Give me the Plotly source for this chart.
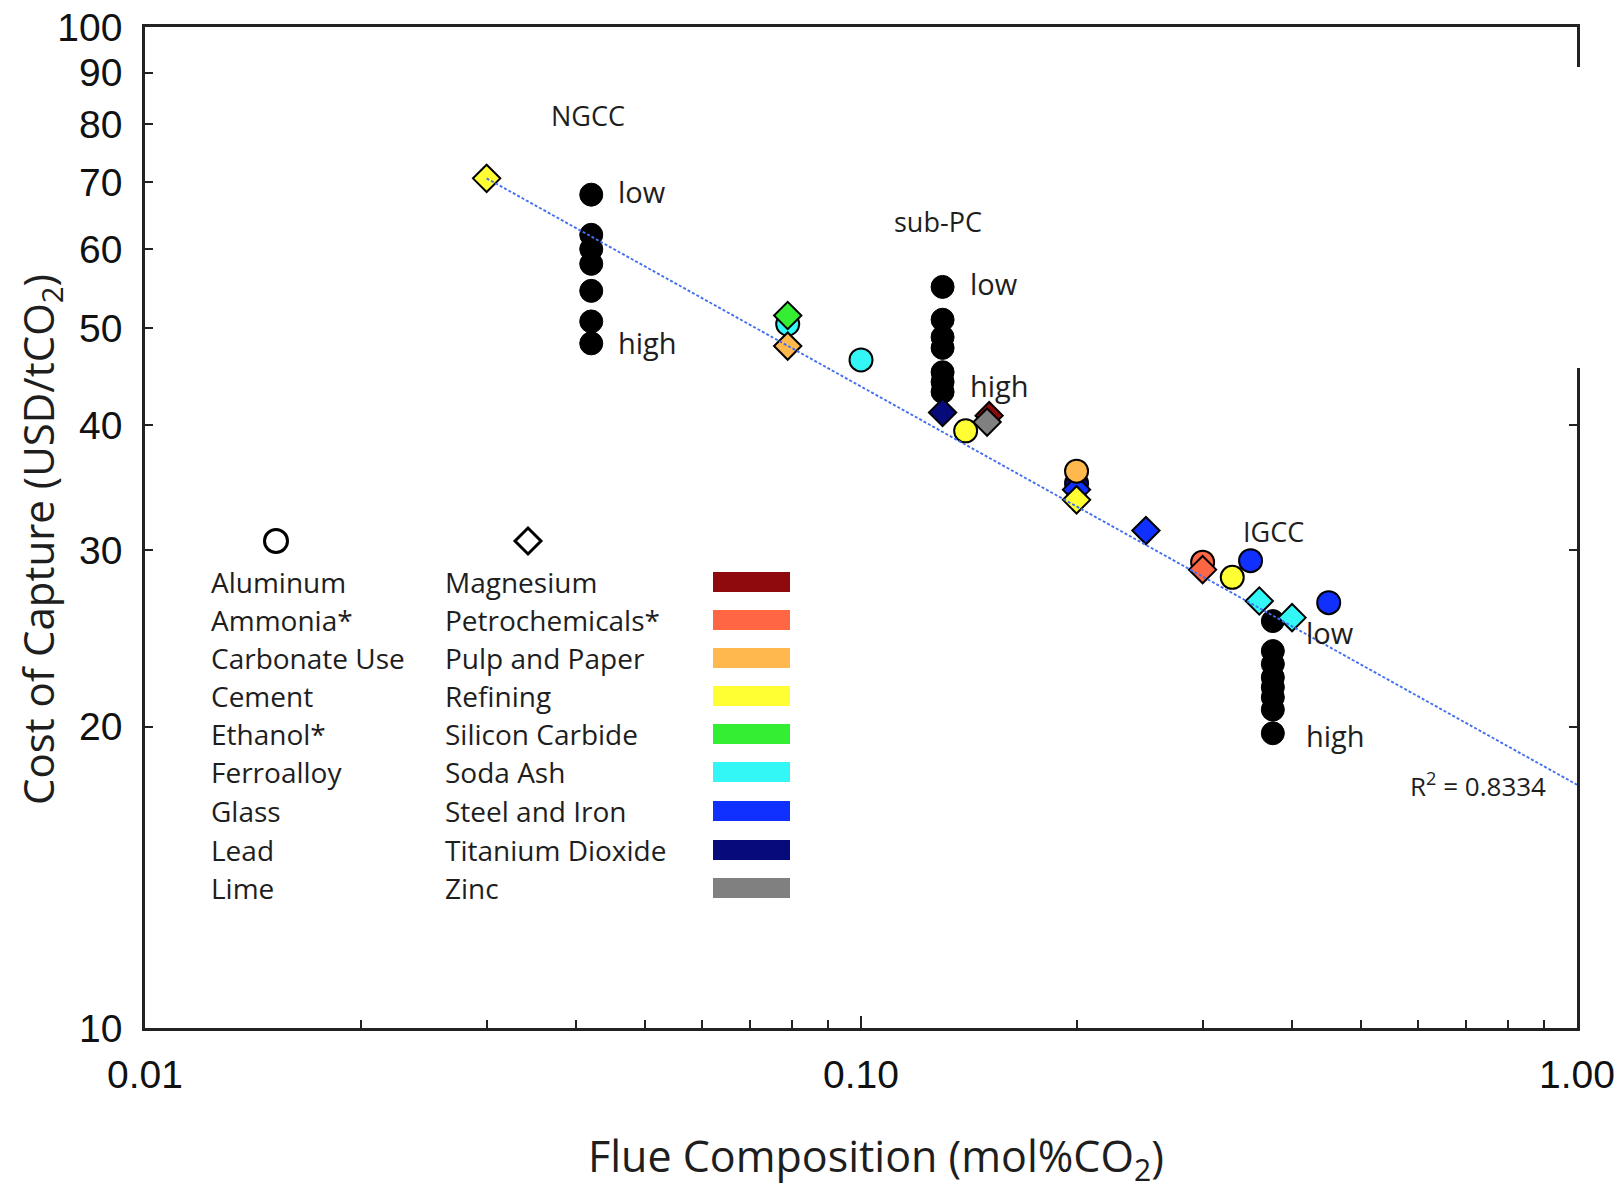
import plotly.graph_objects as go

# ---------------- data ----------------
ngcc_x = [0.042] * 7
ngcc_y = [68.0, 62.0, 60.0, 58.0, 54.5, 50.8, 48.3]
subpc_x = [0.13] * 7
subpc_y = [55.0, 51.0, 49.0, 47.8, 45.2, 44.2, 43.2]
igcc_x = [0.376] * 8
igcc_y = [25.5, 23.8, 23.1, 22.4, 21.9, 21.4, 20.8, 19.7]

ferroalloy_x = [0.079, 0.10]
ferroalloy_y = [50.5, 46.5]
lead_x = [0.20]
lead_y = [35.0]
magnesium_x = [0.151]
magnesium_y = [40.9]
steel_x = [0.20, 0.25]
steel_y = [34.5, 31.4]
refining_x = [0.030, 0.20]
refining_y = [70.6, 33.7]
pulp_x = [0.079]
pulp_y = [48.0]
sic_x = [0.079]
sic_y = [51.5]
carbonate_x = [0.20]
carbonate_y = [36.0]
zinc_x = [0.150]
zinc_y = [40.3]
tio2_x = [0.13]
tio2_y = [41.2]
cement_x = [0.14, 0.33]
cement_y = [39.5, 28.2]
ammonia_x = [0.30]
ammonia_y = [29.2]
petro_x = [0.30]
petro_y = [28.7]
glass_x = [0.35, 0.45]
glass_y = [29.3, 26.6]
sodaash_x = [0.36, 0.40]
sodaash_y = [26.7, 25.7]

fit_x = [0.03, 1.0]
fit_y = [70.6, 17.5]
r2_value = "0.8334"

circle_names = ["Aluminum", "Ammonia*", "Carbonate Use", "Cement", "Ethanol*",
                "Ferroalloy", "Glass", "Lead", "Lime"]
diamond_names = ["Magnesium", "Petrochemicals*", "Pulp and Paper", "Refining",
                 "Silicon Carbide", "Soda Ash", "Steel and Iron", "Titanium Dioxide", "Zinc"]
palette = ["#8f0a0c", "#ff6644", "#ffb84d", "#ffff33", "#33ee33",
           "#33f7f7", "#1030ff", "#060a7a", "#808080"]

x_tickvals = [0.01, 0.1, 1.0]
x_ticktext = ["0.01", "0.10", "1.00"]
x_minorvals = [0.02, 0.03, 0.04, 0.05, 0.06, 0.07, 0.08, 0.09,
               0.2, 0.3, 0.4, 0.5, 0.6, 0.7, 0.8, 0.9]
y_tickvals = [10, 20, 30, 40, 50, 60, 70, 80, 90, 100]
y_ticktext = ["10", "20", "30", "40", "50", "60", "70", "80", "90", "100"]

# ---------------- geometry helpers ----------------
W, H = 1615, 1189
PL, PR, PT, PB = 145, 1577, 27, 1028


def px_x(px):
    return (px - PL) / (PR - PL)


def px_y(py):
    return (PB - py) / (PB - PT)


def data_x(px):
    return 10 ** (-2 + 2 * (px - PL) / (PR - PL))


def data_y(py):
    return 10 ** (1 + (PB - py) / (PB - PT))


TXT = "#1e1e1e"
LABEL_FONT = "Open Sans"
TICK_FONT = "Liberation Sans, Arial"

fig = go.Figure()

# plant (black) points
for xs, ys in [(ngcc_x, ngcc_y), (subpc_x, subpc_y), (igcc_x, igcc_y)]:
    fig.add_trace(go.Scatter(x=xs, y=ys, mode="markers", showlegend=False,
                             marker=dict(symbol="circle", size=23, color="black",
                                         line=dict(color="black", width=1))))


def add_pts(xs, ys, symbol, color, name):
    size = 23 if symbol == "circle" else 21
    fig.add_trace(go.Scatter(x=xs, y=ys, mode="markers", name=name, showlegend=False,
                             marker=dict(symbol=symbol, size=size, color=color,
                                         line=dict(color="black", width=2))))


add_pts(ferroalloy_x, ferroalloy_y, "circle", palette[5], "Ferroalloy")
add_pts(lead_x, lead_y, "circle", palette[7], "Lead")
add_pts(magnesium_x, magnesium_y, "diamond", palette[0], "Magnesium")
add_pts(steel_x, steel_y, "diamond", palette[6], "Steel and Iron")
add_pts(refining_x, refining_y, "diamond", palette[3], "Refining")
add_pts(pulp_x, pulp_y, "diamond", palette[2], "Pulp and Paper")
add_pts(sic_x, sic_y, "diamond", palette[4], "Silicon Carbide")
add_pts(carbonate_x, carbonate_y, "circle", palette[2], "Carbonate Use")
add_pts(zinc_x, zinc_y, "diamond", palette[8], "Zinc")
add_pts(tio2_x, tio2_y, "diamond", palette[7], "Titanium Dioxide")
add_pts(cement_x, cement_y, "circle", palette[3], "Cement")
add_pts(ammonia_x, ammonia_y, "circle", palette[1], "Ammonia*")
add_pts(petro_x, petro_y, "diamond", palette[1], "Petrochemicals*")
add_pts(glass_x, glass_y, "circle", palette[6], "Glass")
add_pts(sodaash_x, sodaash_y, "diamond", palette[5], "Soda Ash")

# fit line
fig.add_trace(go.Scatter(x=fit_x, y=fit_y, mode="lines", showlegend=False,
                         line=dict(color="#4470f0", width=1.9, dash="3px,2px")))

# legend header symbols
fig.add_trace(go.Scatter(x=[data_x(276)], y=[data_y(541)], mode="markers", showlegend=False,
                         marker=dict(symbol="circle-open", size=23, color="black",
                                     line=dict(width=3))))
fig.add_trace(go.Scatter(x=[data_x(528)], y=[data_y(541)], mode="markers", showlegend=False,
                         marker=dict(symbol="diamond-open", size=20, color="black",
                                     line=dict(width=3))))

annotations = []
shapes = []
row_y = [582, 620, 658, 696, 734, 772, 811, 850, 888]
for i in range(9):
    annotations.append(dict(x=px_x(209), y=px_y(row_y[i]), xref="paper", yref="paper",
                            text=circle_names[i], showarrow=False, xanchor="left", yanchor="middle",
                            font=dict(family=LABEL_FONT, size=28, color=TXT)))
    annotations.append(dict(x=px_x(443), y=px_y(row_y[i]), xref="paper", yref="paper",
                            text=diamond_names[i], showarrow=False, xanchor="left", yanchor="middle",
                            font=dict(family=LABEL_FONT, size=28, color=TXT)))
    shapes.append(dict(type="rect", xref="paper", yref="paper",
                       x0=px_x(713), x1=px_x(790),
                       y0=px_y(row_y[i] + 10), y1=px_y(row_y[i] - 10),
                       fillcolor=palette[i], line=dict(width=0)))


def label(px, py, text, anchor="left", size=29):
    annotations.append(dict(x=px_x(px), y=px_y(py), xref="paper", yref="paper", text=text,
                            showarrow=False, xanchor=anchor, yanchor="middle",
                            font=dict(family=LABEL_FONT, size=size, color=TXT)))


label(588, 116, "NGCC", "center", 27)
label(616, 192, "low")
label(616, 342, "high")
label(938, 221, "sub-PC", "center", 27)
label(968, 284, "low")
label(968, 385, "high")
label(1273, 531, "IGCC", "center", 27)
label(1304, 632, "low")
label(1304, 735, "high")
label(1548, 785, "R<sup>2</sup> = " + r2_value, "right", 26)

# axis titles
annotations.append(dict(x=px_x(876), y=px_y(1158), xref="paper", yref="paper",
                        text="Flue Composition (mol%CO<sub>2</sub>)", showarrow=False,
                        xanchor="center", yanchor="middle",
                        font=dict(family=LABEL_FONT, size=43, color=TXT)))
annotations.append(dict(x=px_x(40), y=px_y(540), xref="paper", yref="paper",
                        text="Cost of Capture (USD/tCO<sub>2</sub>)", showarrow=False,
                        textangle=-90, xanchor="center", yanchor="middle",
                        font=dict(family=LABEL_FONT, size=42, color=TXT)))

# white gap on the right spine (as in the reference image)
shapes.append(dict(type="rect", xref="paper", yref="paper", layer="above",
                   x0=px_x(1568), x1=px_x(1615), y0=px_y(368), y1=px_y(67),
                   fillcolor="white", line=dict(width=0)))

fig.update_layout(
    width=W, height=H,
    margin=dict(l=PL, r=W - PR, t=PT, b=H - PB, autoexpand=False),
    paper_bgcolor="white", plot_bgcolor="white",
    showlegend=False,
    annotations=annotations, shapes=shapes,
    xaxis=dict(type="log", range=[-2, 0], showgrid=False, zeroline=False, automargin=False,
               showline=True, linecolor="#222", linewidth=2.5, mirror=True,
               ticks="inside", ticklen=12, tickwidth=1.5, tickcolor="#222",
               tickvals=x_tickvals, ticktext=x_ticktext, ticklabelstandoff=10,
               tickfont=dict(family=TICK_FONT, size=39, color="#111"),
               minor=dict(tickvals=x_minorvals, ticks="inside", ticklen=8,
                          tickwidth=1.5, tickcolor="#222", showgrid=False)),
    yaxis=dict(type="log", range=[1, 2], showgrid=False, zeroline=False, automargin=False,
               showline=True, linecolor="#222", linewidth=2.5, mirror="ticks",
               ticks="inside", ticklen=8, tickwidth=1.5, tickcolor="#222",
               tickvals=y_tickvals, ticktext=y_ticktext, ticklabelstandoff=12,
               tickfont=dict(family=TICK_FONT, size=39, color="#111")),
)

fig.write_html("out.html")
